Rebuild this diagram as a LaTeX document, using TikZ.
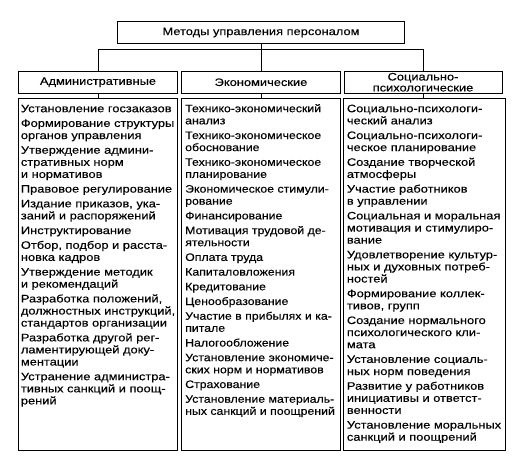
\documentclass[tikz,border=0pt]{standalone}
\usepackage{fontspec}
\setmainfont{Liberation Sans}[FakeStretch=1.19,FakeBold=0.3]
\newfontfamily\econfont{Liberation Sans}[FakeStretch=1.14,FakeBold=0.3]
\tikzset{
  box/.style={draw=black, line width=0.9pt, inner sep=0pt},
  txt/.style={font=\fontsize{10.8}{12.1}\selectfont, inner sep=0pt},
  list/.style={txt, align=left, anchor=north west},
  conn/.style={draw=black, line width=0.9pt},
}
\newcommand{\gp}{\\[2.6pt]}
\newcommand{\fl}{\rule{0pt}{8.5pt}}
\begin{document}
\begin{tikzpicture}[x=1pt,y=-1pt]
\useasboundingbox (0,0) rectangle (529,458);
% top
\node[box, txt, minimum width=287pt, minimum height=21.5pt] (top) at (261,32.5) {Методы управления персоналом};
% headers
\node[box, txt, minimum width=159.5pt, minimum height=22.5pt] (hA) at (98,82.25) {Административные};
\node[box, txt, minimum width=158.5pt, minimum height=22.5pt] (hE) at (261,82.25) {Экономические};
\node[box, font=\fontsize{10.8}{11}\selectfont, inner sep=0pt, align=center, minimum width=158pt, minimum height=22.5pt] (hS) at (423,82.25) {Социально-\\психологические};
% connectors
\coordinate (j) at (261,49.5);
\draw[conn] (top.south) -- (j);
\draw[conn] (hA.north) -- (hA.north |- j) -- (hS.north |- j) -- (hS.north);
\draw[conn] (j) -- (hE.north);
% list boxes
\node[box, anchor=north west, minimum width=159.5pt, minimum height=352pt] (bA) at (17.5,98) {};
\node[box, anchor=north west, minimum width=159pt, minimum height=352pt] (bE) at (181,98) {};
\node[box, anchor=north west, minimum width=162pt, minimum height=352pt] (bS) at (343,98) {};
\draw[conn] (hA.south) -- (hA.south |- bA.north);
\draw[conn] (hE.south) -- (hE.south |- bE.north);
\draw[conn] (hS.south) -- (hS.south |- bS.north);
% lists
\node[list] (tA) at (20.7,103.5) {\fl Установление госзаказов\gp
Формирование структуры\\органов управления\gp
Утверждение админи-\\стративных норм\\и нормативов\gp
Правовое регулирование\gp
Издание приказов, ука-\\заний и распоряжений\gp
Инструктирование\gp
Отбор, подбор и расста-\\новка кадров\gp
Утверждение методик\\и рекомендаций\gp
Разработка положений,\\должностных инструкций,\\стандартов организации\gp
Разработка другой рег-\\ламентирующей доку-\\ментации\gp
Устранение администра-\\тивных санкций и поощ-\\рений};
\node[list, font=\econfont\fontsize{10.8}{12.1}\selectfont] (tE) at (185,103.5) {\fl Технико-экономический\\анализ\gp
Технико-экономическое\\обоснование\gp
Технико-экономическое\\планирование\gp
Экономическое стимули-\\рование\gp
Финансирование\gp
Мотивация трудовой де-\\ятельности\gp
Оплата труда\gp
Капиталовложения\gp
Кредитование\gp
Ценообразование\gp
Участие в прибылях и ка-\\питале\gp
Налогообложение\gp
Установление экономиче-\\ских норм и нормативов\gp
Страхование\gp
Установление материаль-\\ных санкций и поощрений};
\node[list] (tS) at (346.7,103.5) {\fl Социально-психологи-\\ческий анализ\gp
Социально-психологи-\\ческое планирование\gp
Создание творческой\\атмосферы\gp
Участие работников\\в управлении\gp
Социальная и моральная\\мотивация и стимулиро-\\вание\gp
Удовлетворение культур-\\ных и духовных потреб-\\ностей\gp
Формирование коллек-\\тивов, групп\gp
Создание нормального\\психологического кли-\\мата\gp
Установление социаль-\\ных норм поведения\gp
Развитие у работников\\инициативы и ответст-\\венности\gp
Установление моральных\\санкций и поощрений};
\end{tikzpicture}
\end{document}
